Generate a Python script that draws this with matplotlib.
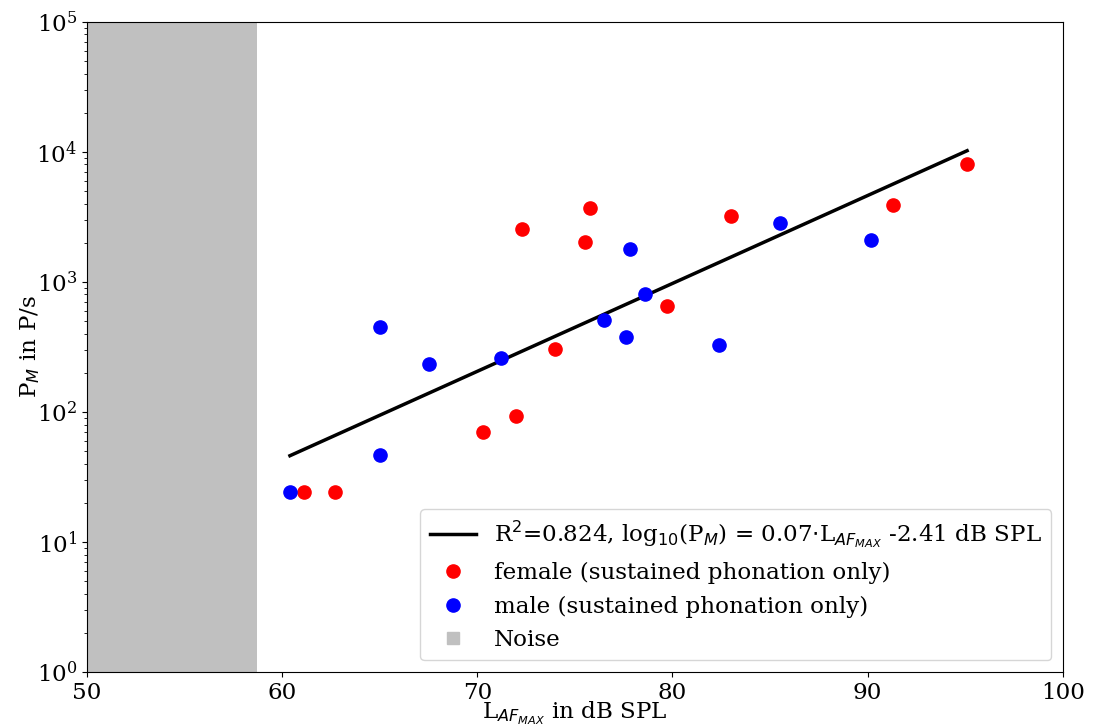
import numpy as np
import matplotlib
matplotlib.use("Agg")
import matplotlib.pyplot as plt
from matplotlib.lines import Line2D

plt.rcParams["font.family"] = "serif"
plt.rcParams["font.serif"] = ["DejaVu Serif"]
plt.rcParams["font.size"] = 16.6

# sound level (dB SPL) and particle emission rate (P/s)
female_L = [61.1, 62.7, 70.3, 72.0, 72.3, 74.0, 75.5, 75.8, 79.7, 83.0, 91.3, 95.1]
female_P = [24, 24, 70, 93, 2560, 305, 2030, 3710, 654, 3220, 3910, 8090]
male_L = [60.4, 65.0, 65.0, 67.5, 71.2, 76.5, 77.6, 77.8, 78.6, 82.4, 85.5, 90.2]
male_P = [24, 451, 47, 234, 260, 510, 377, 1790, 809, 327, 2840, 2100]

# regression log10(P) = slope * L + intercept
slope = 0.0676
intercept = -2.42
r2 = 0.824

noise_limit = 58.7

fig, ax = plt.subplots(figsize=(11.07, 7.28), dpi=100)
fig.subplots_adjust(left=0.0786, right=0.960, top=0.970, bottom=0.077)

ax.axvspan(50, noise_limit, color="silver", lw=0)

all_L = np.array(female_L + male_L)
fit_x = np.linspace(all_L.min(), all_L.max(), 50)
fit_y = 10 ** (slope * fit_x + intercept)
ax.plot(fit_x, fit_y, color="black", lw=2.5)

ax.plot(female_L, female_P, "o", color="red", markersize=9.5)
ax.plot(male_L, male_P, "o", color="blue", markersize=9.5)

ax.set_yscale("log")
ax.set_xlim(50, 100)
ax.set_ylim(1, 1e5)
ax.set_xlabel(r"L$_{AF_{MAX}}$ in dB SPL", labelpad=-3)
ax.set_ylabel(r"P$_M$ in P/s", labelpad=-4)

handles = [
    Line2D([], [], color="black", lw=2.5),
    Line2D([], [], marker="o", color="red", ls="", markersize=9.5),
    Line2D([], [], marker="o", color="blue", ls="", markersize=9.5),
    Line2D([], [], marker="s", color="silver", ls="", markersize=9),
]
labels = [
    r"R$^2$=%.3f, log$_{10}$(P$_M$) = 0.07$\cdot$L$_{AF_{MAX}}$ -2.41 dB SPL" % r2,
    "female (sustained phonation only)",
    "male (sustained phonation only)",
    "Noise",
]
ax.legend(handles, labels, loc="lower right")

plt.savefig("out.png")
